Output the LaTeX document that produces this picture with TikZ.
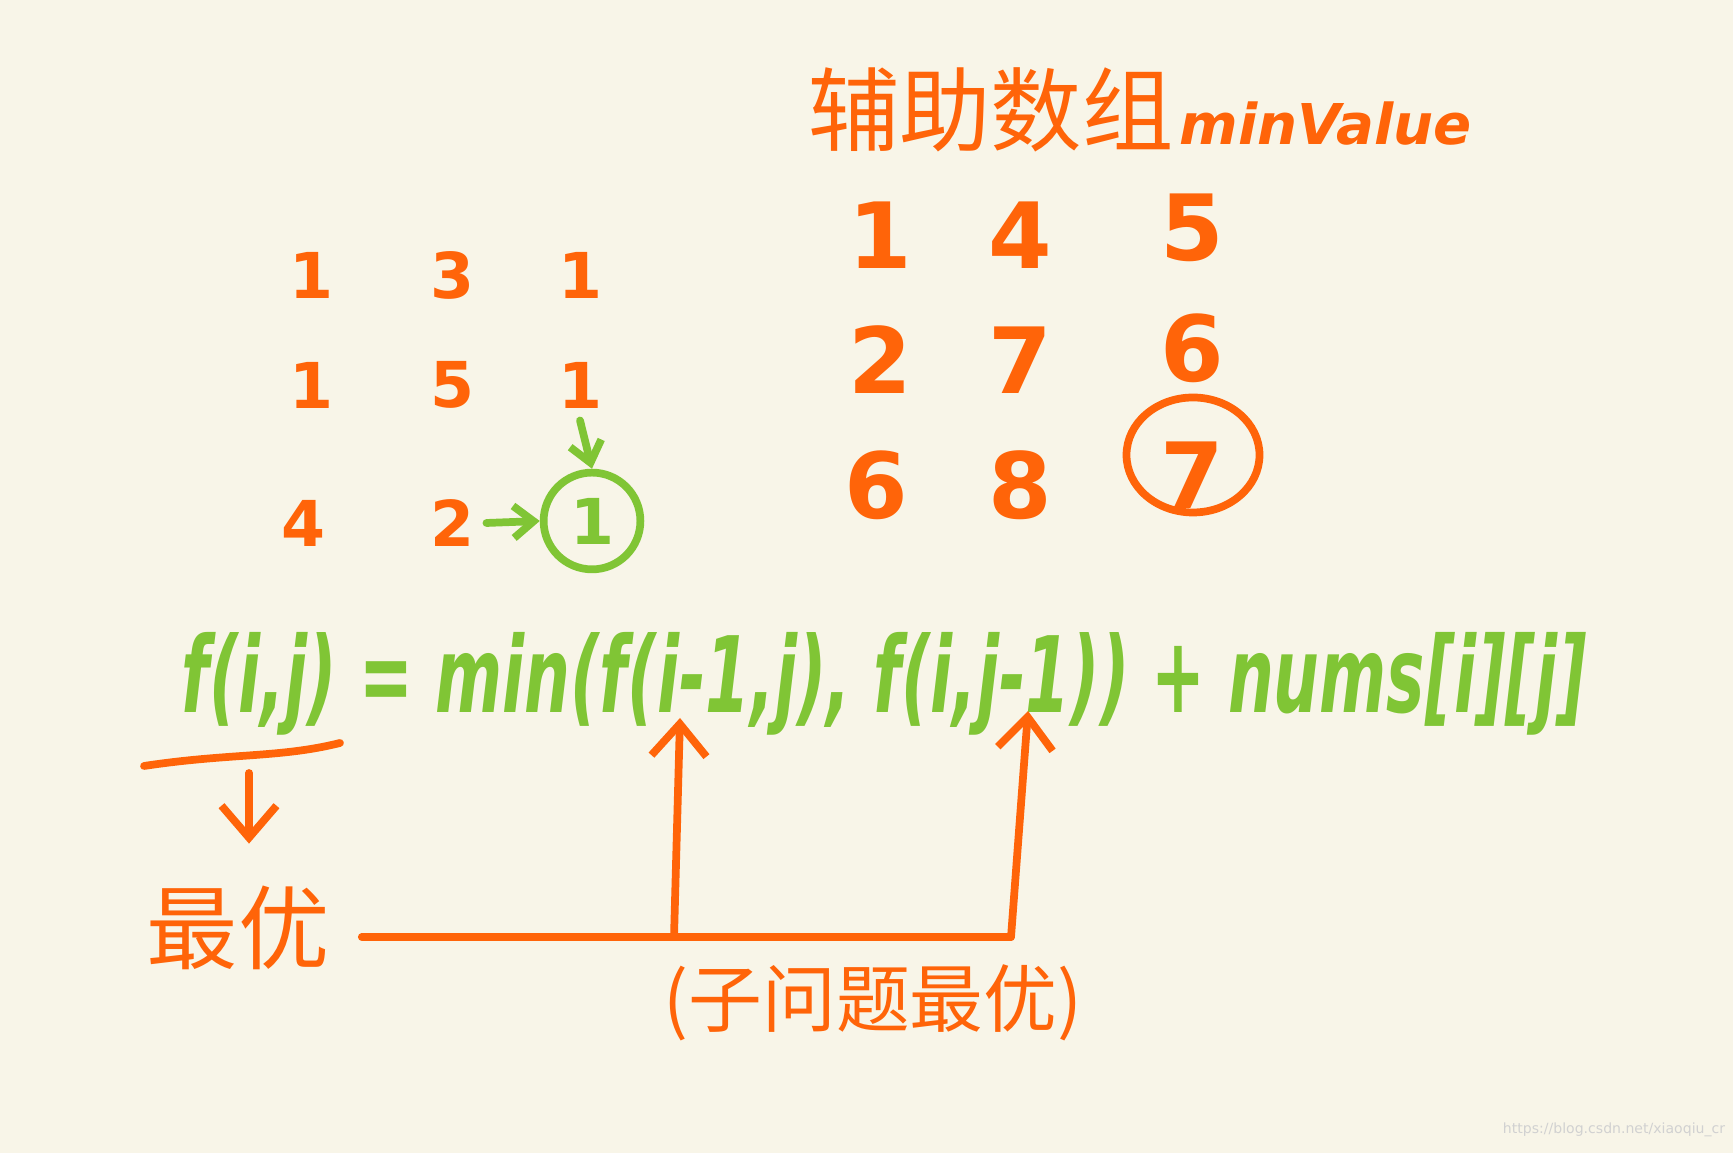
\documentclass[tikz,border=0pt]{standalone}
\usepackage{fontspec}
\usepackage{xcolor}
\usepackage{graphicx}
\usepackage{tikz}
\setmainfont{DejaVu Sans}
\newfontfamily\cjk{Noto Sans CJK SC}
\definecolor{paper}{HTML}{F8F5E8}
\definecolor{pen}{HTML}{FF6409}
\definecolor{leaf}{HTML}{80C535}
\usetikzlibrary{positioning,shapes.geometric,arrows.meta}

\begin{document}
\begin{tikzpicture}[
    num/.style={text=pen, font=\fontsize{18}{18}\selectfont\bfseries},
    bignum/.style={text=pen, font=\fontsize{26}{26}\selectfont\bfseries},
    stroke/.style={draw=pen, line width=2.2pt, line cap=round, line join=round},
    greenstroke/.style={draw=leaf, line width=2.2pt, line cap=round, line join=round},
    bigtip/.style={-{Straight Barb[length=3.2mm,width=5.5mm]}},
    smalltip/.style={-{Straight Barb[length=2mm,width=3.2mm]}}
]
    % Paper
    \fill[paper] (0,0) rectangle (17.33,11.53);
    \useasboundingbox (0,0) rectangle (17.33,11.53);

    % Title
    \node[text=pen] (title) at (11.40,10.43) {{\cjk\fontsize{26}{26}\selectfont 辅助数组}\,{\fontsize{16}{16}\selectfont\bfseries\itshape minValue}};

    % Grid nums
    \node[num] (a11) at (3.12,8.78) {1};
    \node[num] (a12) at (4.52,8.78) {3};
    \node[num] (a13) at (5.80,8.78) {1};
    \node[num] (a21) at (3.12,7.68) {1};
    \node[num] (a22) at (4.52,7.68) {5};
    \node[num] (a23) at (5.80,7.68) {1};
    \node[num] (a31) at (3.04,6.30) {4};
    \node[num] (a32) at (4.52,6.30) {2};
    \node[num, text=leaf, draw=leaf, circle, line width=2.2pt, minimum size=0.9cm] (a33) at (5.92,6.32) {1};

    % Green path
    \draw[greenstroke, smalltip] (a23.south) -- (a33.north);
    \draw[greenstroke, smalltip] (a32.east) -- (a33.west);

    % minValue nums
    \node[bignum] (b11) at (8.80,9.18) {1};
    \node[bignum] (b12) at (10.20,9.18) {4};
    \node[bignum] (b13) at (11.92,9.25) {5};
    \node[bignum] (b21) at (8.80,7.93) {2};
    \node[bignum] (b22) at (10.20,7.93) {7};
    \node[bignum] (b23) at (11.92,8.05) {6};
    \node[bignum] (b31) at (8.76,6.68) {6};
    \node[bignum] (b32) at (10.20,6.68) {8};
    \node[bignum] (b33) at (11.92,6.78) {7};
    \node[ellipse, draw=pen, line width=2.2pt, minimum width=1.33cm, minimum height=1.15cm] (ring) at (11.93,6.98) {};

    % Formula
    \node[text=leaf, anchor=base] (rule) at (8.84,4.40) {\scalebox{0.61}[1]{\fontsize{30}{30}\selectfont\bfseries\itshape f(i,j) = min(f(i-1,j), f(i,j-1)) + nums[i][j]}};

    % Best / sub-problem
    \node[text=pen] (best) at (2.38,2.25) {\cjk\fontsize{26}{26}\selectfont 最优};
    \node[text=pen] (sub) at (8.73,1.50) {\cjk\fontsize{21}{21}\selectfont (子问题最优)};
    \coordinate (ul) at (2.49,3.80);
    \coordinate (j1) at (6.74,2.16);
    \coordinate (j2) at (10.11,2.16);
    \coordinate (t1) at (6.80,4.35);
    \coordinate (t2) at (10.28,4.42);

    \draw[stroke] (1.44,3.87) .. controls (2.3,4.0) and (2.8,3.95) .. (3.40,4.10);
    \draw[stroke, bigtip, shorten >=0.3cm] (ul) -- (ul |- best.north);
    \draw[stroke, shorten <=0.2cm] (best.east |- j1) -- (j2);
    \draw[stroke, bigtip] (j1) -- (t1);
    \draw[stroke, bigtip] (j2) -- (t2);

    % Watermark
    \node[text=black!18, font=\fontsize{4}{4}\selectfont] (url) at (16.14,0.23) {https://blog.csdn.net/xiaoqiu\_cr};
\end{tikzpicture}
\end{document}
